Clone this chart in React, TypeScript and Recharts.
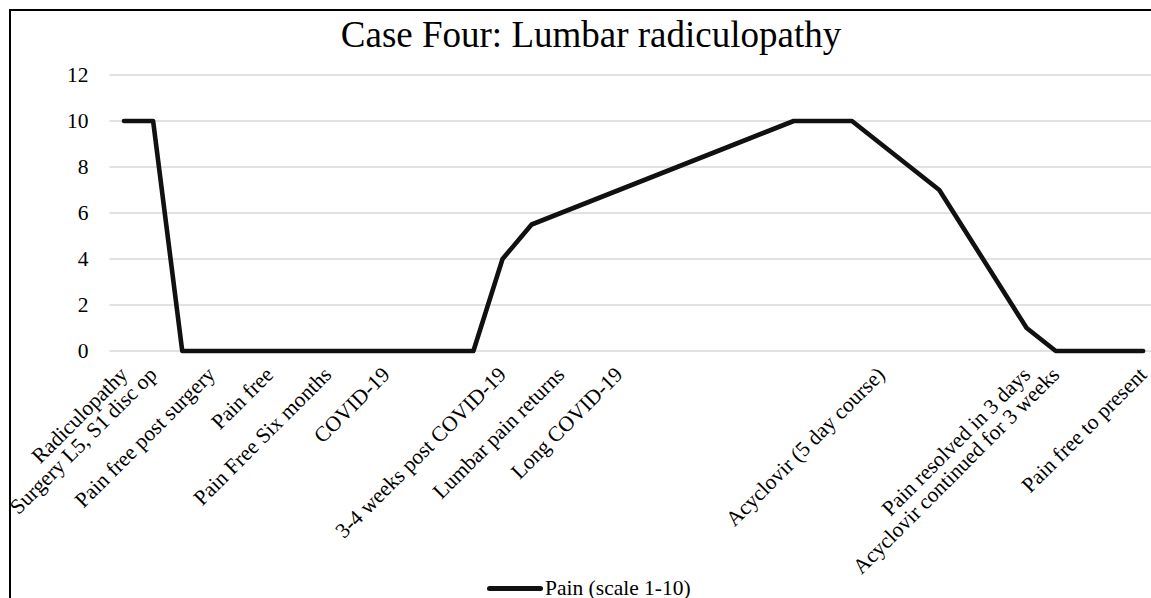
import { LineChart, Line, XAxis, YAxis, CartesianGrid, Legend } from "recharts";

const labels = [
  "Radiculopathy",
  "Surgery L5, S1 disc op",
  "",
  "Pain free post surgery",
  "",
  "Pain free",
  "",
  "Pain Free Six months",
  "",
  "COVID-19",
  "",
  "",
  "",
  "3-4 weeks post COVID-19",
  "",
  "Lumbar pain returns",
  "",
  "Long COVID-19",
  "",
  "",
  "",
  "",
  "",
  "",
  "",
  "",
  "Acyclovir (5 day course)",
  "",
  "",
  "",
  "",
  "Pain resolved in 3 days",
  "Acyclovir continued for 3 weeks",
  "",
  "",
  "Pain free to present",
];

const painScores = [
  10, 10, 0, 0, 0, 0, 0, 0, 0, 0, 0, 0, 0, 4, 5.5, 6, 6.5, 7, 7.5, 8, 8.5, 9,
  9.5, 10, 10, 10, 9, 8, 7, 5, 3, 1, 0, 0, 0, 0,
];

const yTicks = [0, 2, 4, 6, 8, 10, 12];

const data = labels.map((label, i) => ({ idx: i, label, pain: painScores[i] }));

const FONT = '"Liberation Serif", "Times New Roman", serif';

function CategoryTick(props: any) {
  const { x, y, payload } = props;
  const text = labels[payload.value] ?? "";
  if (!text) return null;
  return (
    <text
      x={x}
      y={y}
      transform={`rotate(-45, ${x}, ${y})`}
      textAnchor="end"
      dominantBaseline="central"
      fontFamily={FONT}
      fontSize={21.5}
      fill="#000"
    >
      {text}
    </text>
  );
}

function ValueTick(props: any) {
  const { x, y, payload } = props;
  return (
    <text
      x={x}
      y={y}
      textAnchor="end"
      dominantBaseline="central"
      fontFamily={FONT}
      fontSize={21.5}
      fill="#000"
    >
      {payload.value}
    </text>
  );
}

function PainLegend() {
  return (
    <div style={{ position: "relative", height: 24, fontFamily: FONT }}>
      <div
        style={{
          position: "absolute",
          left: 487,
          top: 10,
          width: 56,
          height: 5,
          borderRadius: 3,
          background: "#111",
        }}
      />
      <span
        style={{
          position: "absolute",
          left: 545,
          top: 0,
          fontSize: 21.5,
          lineHeight: "24px",
          color: "#000",
          whiteSpace: "nowrap",
        }}
      >
        Pain (scale 1-10)
      </span>
    </div>
  );
}

export default function App() {
  return (
    <div
      style={{
        position: "fixed",
        left: 0,
        top: 0,
        width: 1151,
        height: 598,
        overflow: "hidden",
        background: "#fff",
      }}
    >
      <div
        style={{
          position: "absolute",
          left: 9,
          top: 9,
          width: 1300,
          height: 800,
          border: "2px solid #000",
        }}
      />
      <div
        style={{
          position: "absolute",
          left: 0,
          top: 13,
          width: 1182,
          textAlign: "center",
          fontFamily: FONT,
          fontSize: 37,
          lineHeight: "44px",
          color: "#000",
        }}
      >
        Case Four: Lumbar radiculopathy
      </div>
      <div style={{ position: "absolute", left: 0, top: 0 }}>
        <LineChart
          width={1170}
          height={602}
          data={data}
          margin={{ top: 75, right: 12.4, left: 49.5, bottom: 2 }}
        >
          <CartesianGrid vertical={false} stroke="#d9d9d9" strokeWidth={1.3} />
          <XAxis
            dataKey="idx"
            type="category"
            interval={0}
            axisLine={false}
            tickLine={false}
            tickSize={0}
            tickMargin={20}
            height={225}
            padding={{ left: 14.5, right: 14.5 }}
            tick={<CategoryTick />}
          />
          <YAxis
            domain={[0, 12]}
            ticks={yTicks}
            width={60}
            axisLine={false}
            tickLine={false}
            tickSize={6}
            tickMargin={15}
            tick={<ValueTick />}
          />
          <Legend
            verticalAlign="bottom"
            wrapperStyle={{ left: 0, width: 1170 }}
            content={() => <PainLegend />}
          />
          <Line
            type="linear"
            dataKey="pain"
            name="Pain (scale 1-10)"
            stroke="#111"
            strokeWidth={4.6}
            strokeLinecap="round"
            strokeLinejoin="round"
            dot={false}
            activeDot={false}
            isAnimationActive={false}
          />
        </LineChart>
      </div>
    </div>
  );
}
